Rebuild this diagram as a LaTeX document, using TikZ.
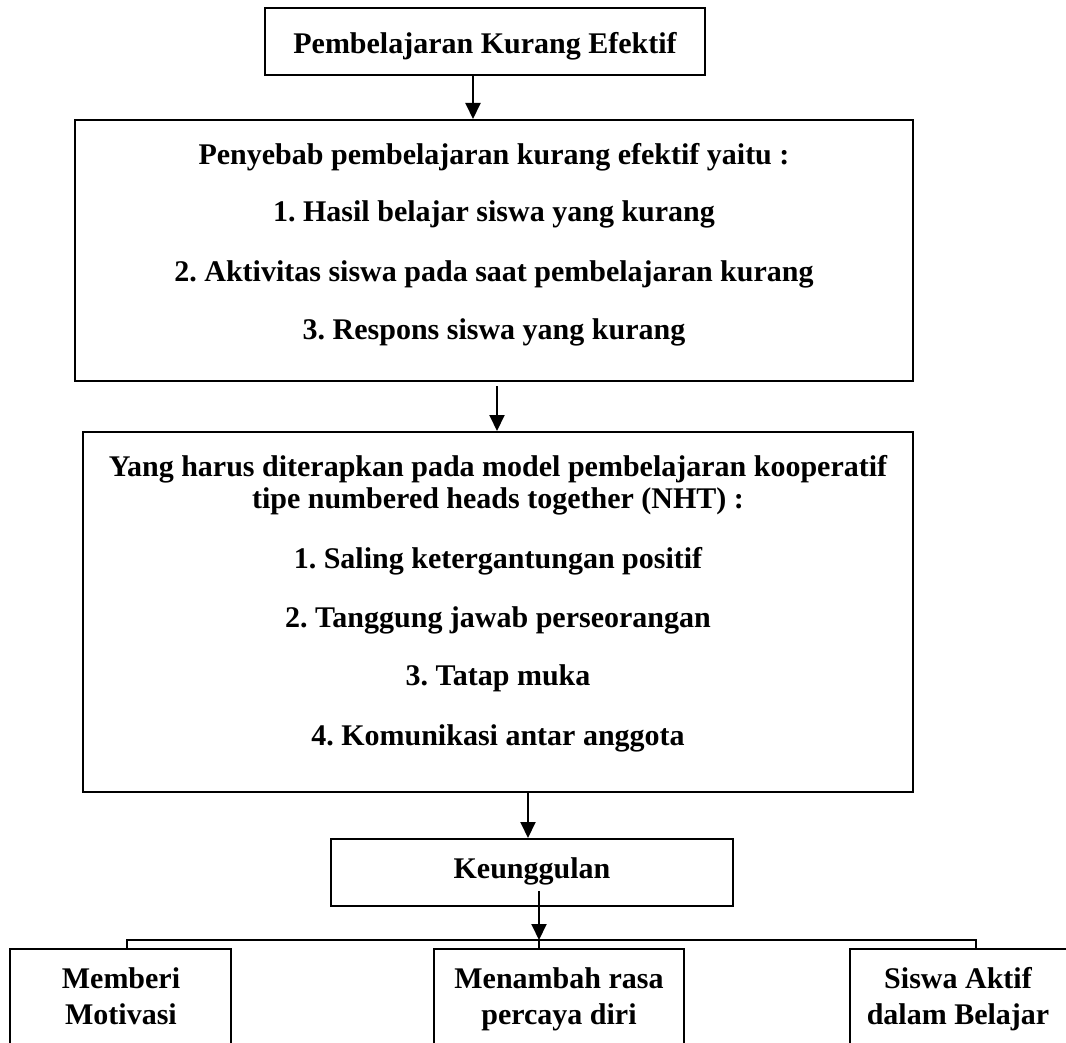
\documentclass[tikz,border=0pt]{standalone}
\usepackage{fontspec}
\setmainfont{Liberation Serif}
\usetikzlibrary{arrows.meta,fit}
\begin{document}
\frenchspacing
\begin{tikzpicture}[x=0.5pt,y=-0.5pt,
  box/.style={draw,line width=1pt,inner sep=0pt},
  txt/.style={anchor=base,font=\fontsize{15}{18}\selectfont\bfseries\frenchspacing,inner sep=0pt},
  arr/.style={line width=1pt,-{Triangle[width=7.5pt,length=8pt]}},
  ln/.style={line width=1pt}]
\useasboundingbox (0,0) rectangle (1066,1043);
\clip (0,0) rectangle (1066,1043);
% boxes
\node[box,fit={(265,8)(705,75)}] (b1) {};
\node[box,fit={(75,120)(913,381)}] (b2) {};
\node[box,fit={(83,432)(913,792)}] (b3) {};
\node[box,fit={(331,839)(733,906)}] (b4) {};
\node[box,fit={(10,949)(231,1080)}] (c1) {};
\node[box,fit={(434,949)(684,1080)}] (c2) {};
\node[box,fit={(850,949)(1080,1080)}] (c3) {};
% texts
\node[txt] (t1) at (485,54) {Pembelajaran Kurang Efektif};
\node[txt] (t2a) at (494,165) {Penyebab pembelajaran kurang efektif yaitu :};
\node[txt] (t2b) at (494,222) {1. Hasil belajar siswa yang kurang};
\node[txt] (t2c) at (494,282) {2. Aktivitas siswa pada saat pembelajaran kurang};
\node[txt] (t2d) at (494,340) {3. Respons siswa yang kurang};
\node[txt] (t3a) at (498,476) {Yang harus diterapkan pada model pembelajaran kooperatif};
\node[txt] (t3b) at (498,508) {tipe numbered heads together (NHT) :};
\node[txt] (t3c) at (498,568) {1. Saling ketergantungan positif};
\node[txt] (t3d) at (498,627) {2. Tanggung jawab perseorangan};
\node[txt] (t3e) at (498,685) {3. Tatap muka};
\node[txt] (t3f) at (498,745) {4. Komunikasi antar anggota};
\node[txt] (t4) at (532,878) {Keunggulan};
\node[txt] (t5a) at (121,988) {Memberi};
\node[txt] (t5b) at (121,1024) {Motivasi};
\node[txt] (t6a) at (559,988) {Menambah rasa};
\node[txt] (t6b) at (559,1024) {percaya diri};
\node[txt] (t7a) at (958,988) {Siswa Aktif};
\node[txt] (t7b) at (958,1024) {dalam Belajar};
% connectors
\draw[arr] ([xshift=-6pt]b1.south) -- ([xshift=-6pt]b1.south |- b2.north);
\draw[arr] ([xshift=1.5pt,yshift=-2pt]b2.south) -- ([xshift=1.5pt]b2.south |- b3.north);
\draw[arr] ([xshift=15pt]b3.south) -- ([xshift=15pt]b3.south |- b4.north);
\coordinate (busL) at (127,940);
\coordinate (busR) at (976,940);
\draw[ln] (c1.north -| busL) -- (busL) -- (busR) -- (c3.north -| busR);
\draw[arr] ([xshift=3.5pt,yshift=8pt]b4.south) -- ([xshift=3.5pt]b4.south |- busL);
\draw[ln] ([xshift=3.5pt]b4.south |- busL) -- ([xshift=3.5pt]b4.south |- c2.north);
\end{tikzpicture}
\end{document}
